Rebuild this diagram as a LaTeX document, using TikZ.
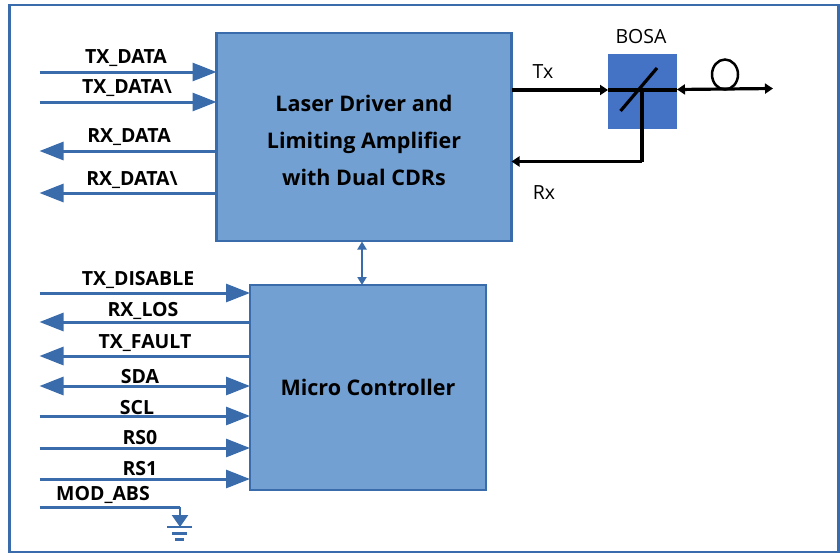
\documentclass[tikz,border=0pt]{standalone}
\usepackage{fontspec}
\setmainfont{Open Sans}[BoldFont={Open Sans Bold}]
\usetikzlibrary{arrows.meta,shapes.geometric}
\definecolor{fr}{HTML}{3A6CAC}
\definecolor{blk}{HTML}{72A0D2}
\definecolor{bosa}{HTML}{4472C4}
\tikzset{
 x=1pt,y=-1pt,
 block/.style={draw=fr,line width=2.5pt,outer sep=0pt,fill=blk,inner sep=0,anchor=north west,align=center,font=\bfseries\fontsize{21.5}{37}\selectfont,text=black},
 sig/.style={draw=fr,line width=3pt},
 sigout/.style={sig,-{Triangle[length=24pt,width=18pt,fill=fr]}},
 sigboth/.style={sig,{Triangle[length=24pt,width=18pt,fill=fr]}-{Triangle[length=24pt,width=18pt,fill=fr]}},
 lab/.style={font=\bfseries\fontsize{19.5}{20}\selectfont,inner sep=0,text=black},
 opt/.style={draw=black,line width=3.2pt},
 optarr/.style={opt,-{Triangle[length=8pt,width=10pt,fill=black]}},
 plainlab/.style={font=\fontsize{19.5}{20}\selectfont,inner sep=0,text=black},
}
\begin{document}
\begin{tikzpicture}
\useasboundingbox (0,0) rectangle (840,554);
\node[draw=fr,line width=2.8pt,outer sep=0pt,minimum width=829pt,minimum height=547pt,anchor=north west,inner sep=0] (frame) at (9.5,5) {};
\node[block,minimum width=295pt,minimum height=208pt] (drv) at (216.5,33) {\rule{0pt}{24pt}Laser Driver and\\Limiting Amplifier\\with Dual CDRs};
\node[block,minimum width=236pt,minimum height=205pt] (mcu) at (250,285) {Micro Controller};
\node[fill=bosa,minimum width=69pt,minimum height=75pt,inner sep=0,anchor=north west] (bosa) at (608,54) {};
\node[plainlab] (bosat) at (641,37) {BOSA};
\node[plainlab] (txt) at (543,72) {Tx};
\node[plainlab] (rxt) at (544,193) {Rx};
% left coordinates
\foreach \n/\y in {a/72,b/102,c/151,d/193,e/293,f/322,g/356,h/386,i/416,j/448,k/479,l/507}{
  \coordinate (L\n) at (39.5,\y);
}
\draw[sigout] (La) -- (La -| drv.west);
\draw[sigout] (Lb) -- (Lb -| drv.west);
\draw[sigout] (Lc -| drv.west) -- (Lc);
\draw[sigout] (Ld -| drv.west) -- (Ld);
\draw[sigout] (Le) -- (Le -| mcu.west);
\draw[sigout] (Lf -| mcu.west) -- (Lf);
\draw[sigout] (Lg -| mcu.west) -- (Lg);
\draw[sigboth] (Lh) -- (Lh -| mcu.west);
\draw[sigout] (Li) -- (Li -| mcu.west);
\draw[sigout] (Lj) -- (Lj -| mcu.west);
\draw[sigout] (Lk) -- (Lk -| mcu.west);
\draw[draw=fr,line width=2.2pt,{Triangle[length=8pt,width=9pt,fill=fr]}-{Triangle[length=8pt,width=9pt,fill=fr]}] (362,241.5) -- (362,285);
% ground
\coordinate (gt) at (180,507);
\coordinate (g0) at (180,527);
\draw[sig] (Ll) -- (gt);
\draw[draw=fr,line width=2.6pt,-{Triangle[length=12pt,width=16pt,fill=fr]}] (gt) -- (g0);
\draw[draw=fr,line width=2.6pt] (167,527) -- (192,527) (172,533.5) -- (187,533.5) (175,539.5) -- (184,539.5);
% labels
\node[lab] (t1) at (126,58) {TX\_DATA};
\node[lab] (t2) at (127,88) {TX\_DATA\textbackslash};
\node[lab] (t3) at (129,137) {RX\_DATA};
\node[lab] (t4) at (132,180) {RX\_DATA\textbackslash};
\node[lab] (t5) at (138,280) {TX\_DISABLE};
\node[lab] (t6) at (143,311) {RX\_LOS};
\node[lab] (t7) at (145,343) {TX\_FAULT};
\node[lab] (t8) at (140,377) {SDA};
\node[lab] (t9) at (137,408) {SCL};
\node[lab] (t10) at (140,438) {RS0};
\node[lab] (t11) at (140,469) {RS1};
\node[lab] (t12) at (103,495) {MOD\_ABS};
% optical
\coordinate (mir1) at (620.5,111);
\coordinate (mir2) at (657,68);
\coordinate (mirc) at (642,90);
\coordinate (fib) at (773,88.5);
\draw[opt] (mir1) -- (mir2);
\draw[optarr] (drv.east |- mirc) -- (bosa.west |- mirc);
\draw[opt] (bosa.west |- mirc) -- (mirc) -- (bosa.east |- mirc);
\draw[opt,{Triangle[length=8pt,width=10pt,fill=black]}-{Triangle[length=8pt,width=10pt,fill=black]}] (677,89.5) -- (fib);
\coordinate (rxc) at (642,161.5);
\draw[opt] (mirc) -- (rxc);
\draw[optarr] (rxc) -- (drv.east |- rxc);
\node[draw=black,line width=2.5pt,ellipse,minimum width=26pt,minimum height=30pt,inner sep=0] (loop) at (725,74.5) {};
\end{tikzpicture}
\end{document}
